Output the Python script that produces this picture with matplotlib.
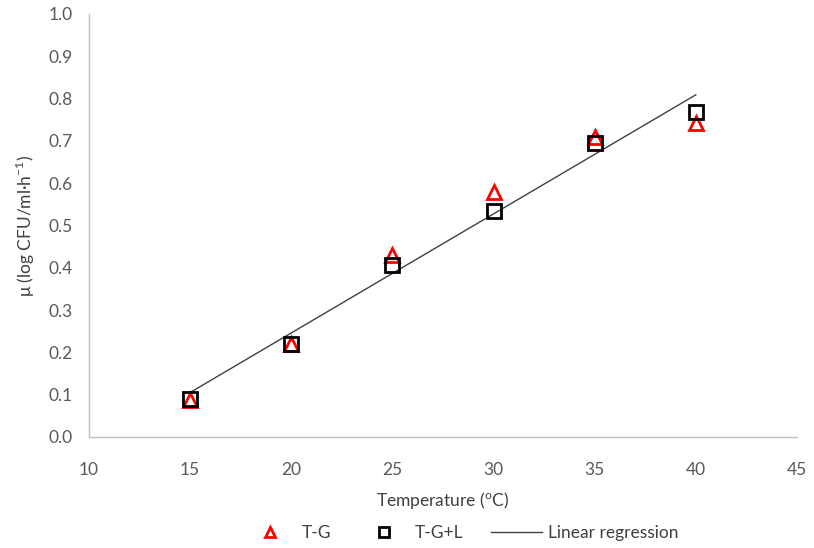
import numpy as np
import matplotlib
matplotlib.use("Agg")
import matplotlib.pyplot as plt
from matplotlib.lines import Line2D

plt.rcParams['font.family'] = ['Lato', 'DejaVu Sans']
plt.rcParams['mathtext.fontset'] = 'custom'
plt.rcParams['mathtext.rm'] = 'Lato'

# Growth rate versus temperature
temperature = [15, 20, 25, 30, 35, 40]
mu_tg = [0.087, 0.220, 0.430, 0.578, 0.710, 0.743]
mu_tgl = [0.090, 0.219, 0.407, 0.535, 0.696, 0.769]

x_ticks = [10, 15, 20, 25, 30, 35, 40, 45]
y_ticks = [0.0, 0.1, 0.2, 0.3, 0.4, 0.5, 0.6, 0.7, 0.8, 0.9, 1.0]

text_col = '#595959'
axis_col = '#bfbfbf'

fig = plt.figure(figsize=(8.14, 5.48), dpi=100)
ax = fig.add_axes([0.1093, 0.2026, 0.8697, 0.7719])

# Linear regression over both series
x_all = np.array(temperature * 2, dtype=float)
y_all = np.array(mu_tg + mu_tgl)
slope, intercept = np.polyfit(x_all, y_all, 1)
xr = np.array([temperature[0], temperature[-1]], dtype=float)
ax.plot(xr, slope * xr + intercept, color='#404040', lw=1.0, zorder=2)

ax.plot(temperature, mu_tg, linestyle='none', marker='^', markersize=10,
        markerfacecolor='none', markeredgecolor='#ff0000', markeredgewidth=2, zorder=3)
ax.plot(temperature, mu_tgl, linestyle='none', marker='s', markersize=10,
        markerfacecolor='none', markeredgecolor='#000000', markeredgewidth=2, zorder=4)

ax.set_xlim(10, 45)
ax.set_ylim(0, 1.0)
ax.set_xticks(x_ticks)
ax.set_yticks(y_ticks)
ax.set_xticklabels([str(v) for v in x_ticks])
ax.set_yticklabels([f'{v:.1f}' for v in y_ticks])
ax.tick_params(axis='both', length=0, labelsize=12.5, labelcolor=text_col)
ax.tick_params(axis='x', pad=18)
ax.tick_params(axis='y', pad=12)

for s in ['top', 'right']:
    ax.spines[s].set_visible(False)
for s in ['left', 'bottom']:
    ax.spines[s].set_color(axis_col)
    ax.spines[s].set_linewidth(1.0)

ax.set_xlabel('Temperature ($^{\\mathregular{o}}$C)', fontsize=12.5, color='#404040', labelpad=9)
ax.set_ylabel('μ (log CFU/ml·h$^{\\mathregular{-1}}$)', fontsize=12.5, color='#404040', labelpad=8)

handles = [
    Line2D([], [], linestyle='none', marker='^', markersize=7, markerfacecolor='none',
           markeredgecolor='#ff0000', markeredgewidth=2),
    Line2D([], [], linestyle='none', marker='s', markersize=7, markerfacecolor='none',
           markeredgecolor='#000000', markeredgewidth=2),
    Line2D([], [], color='#404040', lw=1.0),
]
leg = fig.legend(handles, ['T-G', 'T-G+L', 'Linear regression'], loc='center',
                 bbox_to_anchor=(0.567, 0.027), ncol=3, frameon=False, fontsize=12.5,
                 handlelength=2.9, columnspacing=1.6, handletextpad=0.35)
for t in leg.get_texts():
    t.set_color('#404040')

fig.savefig('out.png', dpi=100)
